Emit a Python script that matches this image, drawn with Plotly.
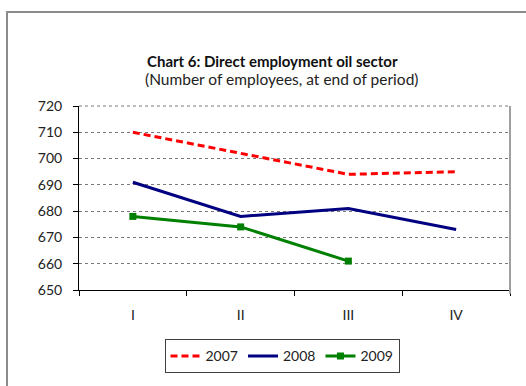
import plotly.graph_objects as go

quarters = ["I", "II", "III", "IV"]
emp_2007 = [710, 702, 694, 695]
emp_2008 = [691, 678, 681, 673]
emp_2009 = [678, 674, 661, None]
y_ticks = [650, 660, 670, 680, 690, 700, 710, 720]

FONT = "Lato, 'Open Sans', sans-serif"

fig = go.Figure()
fig.add_trace(go.Scatter(
    x=quarters, y=emp_2007, name="2007", mode="lines",
    line=dict(color="#FF0000", width=3, dash="7px,4px"),
))
fig.add_trace(go.Scatter(
    x=quarters, y=emp_2008, name="2008", mode="lines",
    line=dict(color="#000080", width=3),
))
fig.add_trace(go.Scatter(
    x=quarters, y=emp_2009, name="2009", mode="lines+markers",
    line=dict(color="#008000", width=3),
    marker=dict(symbol="square", size=7, color="#008000"),
))

L, R, T, B = 79, 16, 106, 90
W, H = 526, 386
pw, ph = W - L - R, H - T - B

def px(x):
    return (x - L) / pw

def py(y):
    return (H - B - y) / ph

fig.update_layout(
    width=W, height=H,
    margin=dict(l=L, r=R, t=T, b=B, pad=0),
    paper_bgcolor="white", plot_bgcolor="white",
    font=dict(family=FONT, size=14, color="#222222"),
    showlegend=True,
    legend=dict(
        orientation="h", x=px(282), xanchor="center", y=py(347), yanchor="top",
        bordercolor="#404040", borderwidth=1, font=dict(size=14),
        itemwidth=30, tracegroupgap=0,
    ),
    xaxis=dict(
        type="category", categoryorder="array", categoryarray=quarters,
        range=[-0.5, 3.5], showgrid=False, zeroline=False,
        showline=True, linecolor="black", linewidth=1,
        ticks="outside", tickson="boundaries", ticklen=5, tickcolor="black",
        tickfont=dict(size=14), ticklabelstandoff=12, fixedrange=True,
    ),
    yaxis=dict(
        range=[650, 720], tickvals=y_ticks, showgrid=True,
        gridcolor="#7a7a7a", griddash="dot", gridwidth=1, zeroline=False,
        showline=True, linecolor="black", linewidth=1,
        ticks="outside", ticklen=5, tickcolor="black",
        tickfont=dict(size=14), ticklabelstandoff=8, fixedrange=True,
    ),
    annotations=[
        dict(text="<b>Chart 6: Direct employment oil sector</b>",
             x=px(272), y=py(60), xref="paper", yref="paper",
             xanchor="center", yanchor="middle",
             showarrow=False, font=dict(size=15, color="#111111")),
        dict(text="(Number of employees, at end of period)",
             x=px(281), y=py(78), xref="paper", yref="paper",
             xanchor="center", yanchor="middle",
             showarrow=False, font=dict(size=15.5, color="#222222")),
    ],
    shapes=[
        # outer chart frame
        dict(type="rect", xref="paper", yref="paper",
             x0=px(7), x1=px(540), y0=py(400), y1=py(9),
             line=dict(color="#8c8c8c", width=2), layer="below"),
        # top edge of plot area
        dict(type="line", xref="paper", yref="paper",
             x0=0, x1=1, y0=1, y1=1,
             line=dict(color="#7a7a7a", width=1, dash="dot")),
        # right edge of plot area
        dict(type="line", xref="paper", yref="paper",
             x0=1, x1=1, y0=py(300), y1=1,
             line=dict(color="#a0a0a0", width=2)),
    ],
)

fig.write_html("out.html")
